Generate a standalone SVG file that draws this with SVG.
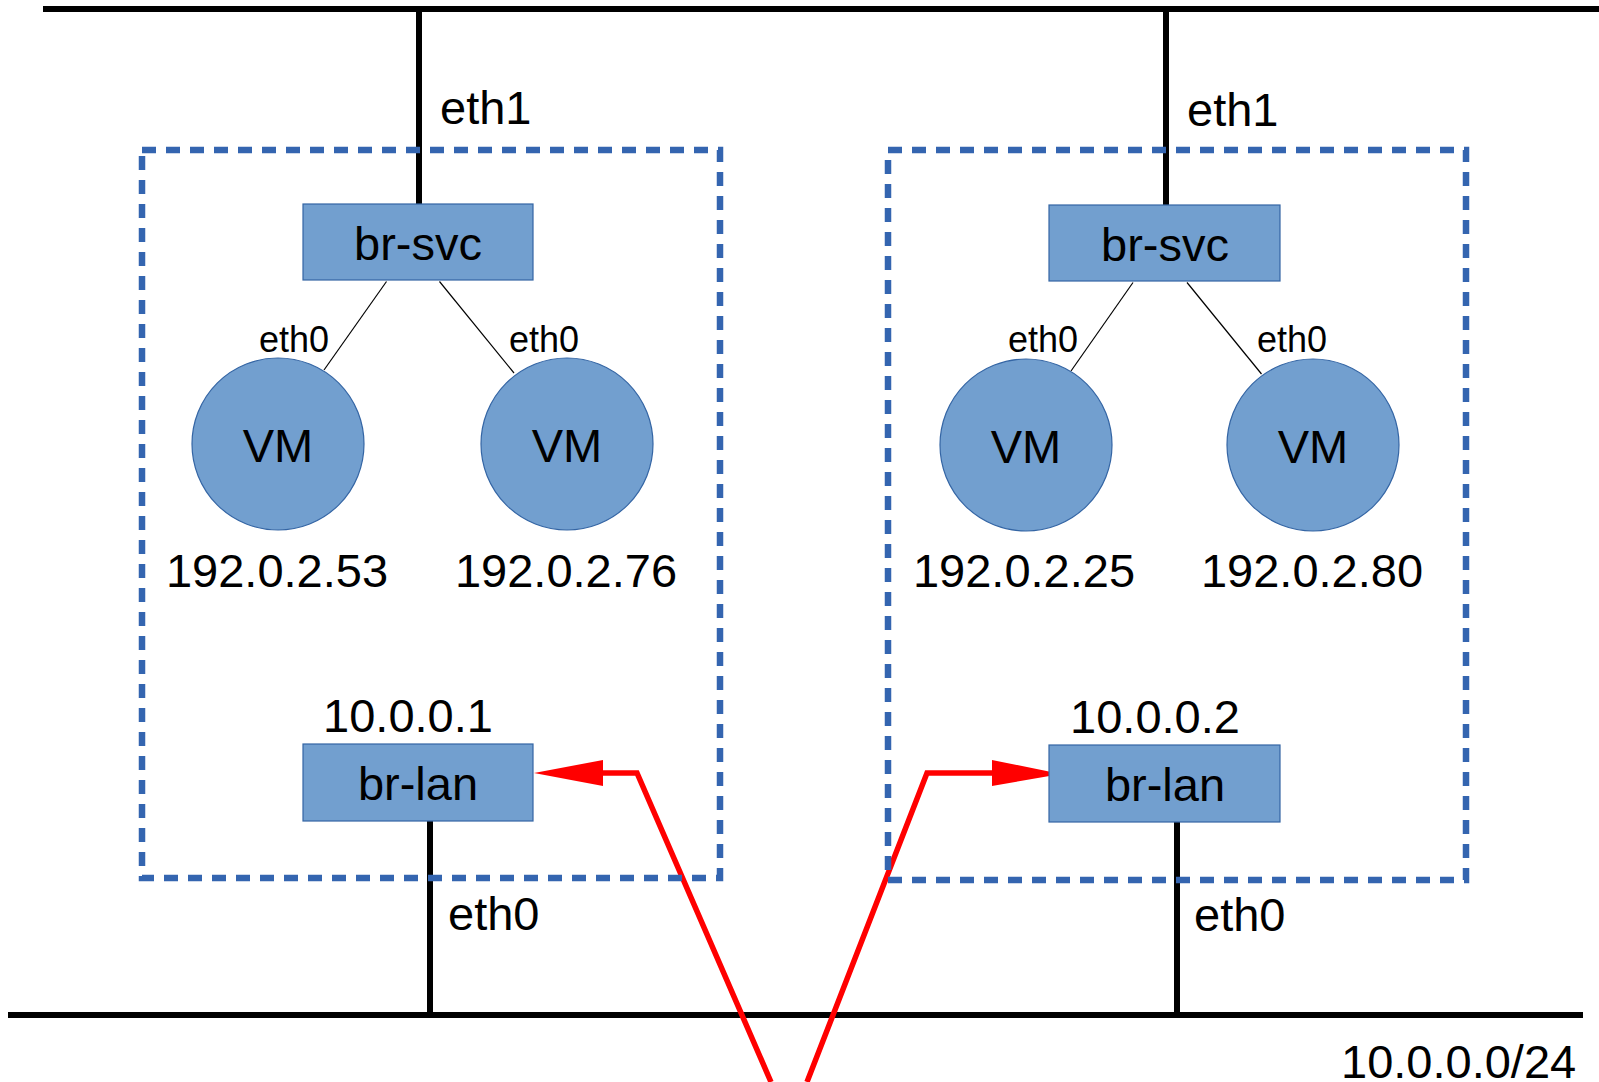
<svg xmlns="http://www.w3.org/2000/svg" width="1599" height="1082" viewBox="0 0 1599 1082">
<defs>
<style>
.bus{stroke:#000;stroke-width:6;fill:none}
.link{stroke:#000;stroke-width:1.2;fill:none}
.host{fill:none;stroke:#3465b0;stroke-width:6.5;stroke-dasharray:14 10}
.box{fill:#729fcf;stroke:#3465a4;stroke-width:1.2}
.vm{fill:#729fcf;stroke:#3465a4;stroke-width:1.2}
.red{stroke:#ff0000;stroke-width:5.5;fill:none}
.t{font-family:"Liberation Sans",Arial,sans-serif;fill:#000;text-anchor:middle}
.big{font-size:47px}
.sm{font-size:36px}
.lft{text-anchor:start}
</style>
</defs>
<rect width="1599" height="1082" fill="#fff"/>
<g id="connectors">
<line class="bus" x1="43" y1="9" x2="1599" y2="9"/>
<line class="bus" x1="8" y1="1015" x2="1583" y2="1015"/>
<line class="bus" x1="419" y1="9" x2="419" y2="204"/>
<line class="bus" x1="1166" y1="9" x2="1166" y2="205"/>
<line class="bus" x1="430" y1="821" x2="430" y2="1015"/>
<line class="bus" x1="1177" y1="822" x2="1177" y2="1015"/>
<line class="link" x1="386.5" y1="281.5" x2="324" y2="370"/>
<line class="link" x1="439.5" y1="281.5" x2="514" y2="373"/>
<line class="link" x1="1133" y1="282.5" x2="1071" y2="371"/>
<line class="link" x1="1187" y1="282.5" x2="1261.5" y2="374"/>
<polyline class="red" points="771,1082 637,773 602,773"/>
<polygon fill="#ff0000" points="603,760 603,786 534,773"/>
<polyline class="red" points="807,1082 927,773 993,773"/>
<polygon fill="#ff0000" points="992,760 992,786 1061,774"/>
</g>
<g id="host1">
<rect class="host" x="142" y="150" width="578" height="728"/>
</g>
<g id="host2">
<rect class="host" x="888" y="150" width="578" height="730"/>
</g>
<g id="br-svc-1">
<rect class="box" x="303" y="204" width="230" height="76"/>
<text class="t big" x="418" y="260">br-svc</text>
</g>
<g id="br-svc-2">
<rect class="box" x="1049" y="205" width="231" height="76"/>
<text class="t big" x="1165" y="261">br-svc</text>
</g>
<g id="br-lan-1">
<rect class="box" x="303" y="744" width="230" height="77"/>
<text class="t big" x="418" y="800">br-lan</text>
</g>
<g id="br-lan-2">
<rect class="box" x="1049" y="745" width="231" height="77"/>
<text class="t big" x="1165" y="801">br-lan</text>
</g>
<g id="vm1">
<circle class="vm" cx="278" cy="444" r="86"/>
<text class="t big" x="278" y="462">VM</text>
</g>
<g id="vm2">
<circle class="vm" cx="567" cy="444" r="86"/>
<text class="t big" x="567" y="462">VM</text>
</g>
<g id="vm3">
<circle class="vm" cx="1026" cy="445" r="86"/>
<text class="t big" x="1026" y="463">VM</text>
</g>
<g id="vm4">
<circle class="vm" cx="1313" cy="445" r="86"/>
<text class="t big" x="1313" y="463">VM</text>
</g>
<g id="labels">
<text class="t big lft" x="440" y="124">eth1</text>
<text class="t big lft" x="1187" y="126">eth1</text>
<text class="t sm" x="294" y="352">eth0</text>
<text class="t sm" x="544" y="352">eth0</text>
<text class="t sm" x="1043" y="352">eth0</text>
<text class="t sm" x="1292" y="352">eth0</text>
<text class="t big" x="277" y="587">192.0.2.53</text>
<text class="t big" x="566" y="587">192.0.2.76</text>
<text class="t big" x="1024" y="587">192.0.2.25</text>
<text class="t big" x="1312" y="587">192.0.2.80</text>
<text class="t big" x="408" y="732">10.0.0.1</text>
<text class="t big" x="1155" y="733">10.0.0.2</text>
<text class="t big lft" x="448" y="930">eth0</text>
<text class="t big lft" x="1194" y="931">eth0</text>
<text class="t big lft" x="1341" y="1078">10.0.0.0/24</text>
</g>
</svg>
